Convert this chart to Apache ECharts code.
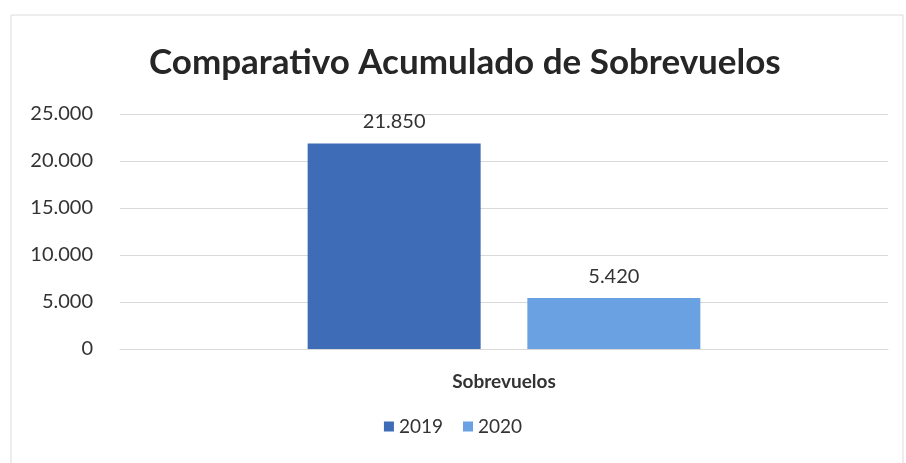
<!DOCTYPE html>
<html>
<head>
<meta charset="utf-8">
<script src="https://cdn.jsdelivr.net/npm/echarts@6/dist/echarts.min.js"></script>
<style>
  html, body { margin: 0; padding: 0; background: #fff; }
  #chart_div { width: 906px; height: 463px; }
</style>
</head>
<body>
<div id="chart_div"></div>
<script>
const categories = ["Sobrevuelos"];
const years = ["2019", "2020"];
const values2019 = [21850];
const values2020 = [5420];
const colors = ["#3f6cb6", "#69a1e2"];

// 21850 -> "21.850"
function fmt(v) {
  return String(v).replace(/\B(?=(\d{3})+(?!\d))/g, ".");
}

const myChart = echarts.init(document.getElementById("chart_div"));
const font = "Lato, 'Open Sans', sans-serif";

const option = {
  animation: false,
  textStyle: { fontFamily: font },
  graphic: [
    {
      type: "rect",
      shape: { x: 11, y: 15, width: 892, height: 450 },
      style: { fill: "none", stroke: "#dcdcdc", lineWidth: 1 }
    }
  ],
  title: {
    text: "Comparativo Acumulado de Sobrevuelos",
    left: 144,
    top: 40,
    textStyle: { fontFamily: font, fontSize: 35, fontWeight: "bold", color: "#262626" }
  },
  legend: {
    data: years,
    bottom: 22,
    left: "center",
    itemWidth: 10,
    itemHeight: 10,
    itemGap: 20,
    icon: "rect",
    textStyle: { fontFamily: font, fontSize: 19, color: "#333" }
  },
  grid: { left: 120, right: 18, top: 114, bottom: 114 },
  xAxis: {
    type: "category",
    data: categories,
    axisLine: { lineStyle: { color: "#d9d9d9" } },
    axisTick: { show: false },
    axisLabel: { fontFamily: font, fontSize: 19, fontWeight: "bold", color: "#333", margin: 23 }
  },
  yAxis: {
    type: "value",
    min: 0,
    max: 25000,
    interval: 5000,
    axisLine: { show: false },
    axisTick: { show: false },
    splitLine: { lineStyle: { color: "#d9d9d9" } },
    axisLabel: {
      fontFamily: font,
      fontSize: 20,
      color: "#333",
      margin: 27,
      formatter: fmt
    }
  },
  series: [
    {
      name: years[0],
      type: "bar",
      data: values2019,
      barWidth: 173,
      barGap: "27%",
      itemStyle: { color: colors[0] },
      label: { show: true, position: "top", distance: 12, fontSize: 20, color: "#333", formatter: p => fmt(p.value) }
    },
    {
      name: years[1],
      type: "bar",
      data: values2020,
      barWidth: 173,
      barGap: "27%",
      itemStyle: { color: colors[1] },
      label: { show: true, position: "top", distance: 12, fontSize: 20, color: "#333", formatter: p => fmt(p.value) }
    }
  ]
};
myChart.setOption(option);
</script>
</body>
</html>
